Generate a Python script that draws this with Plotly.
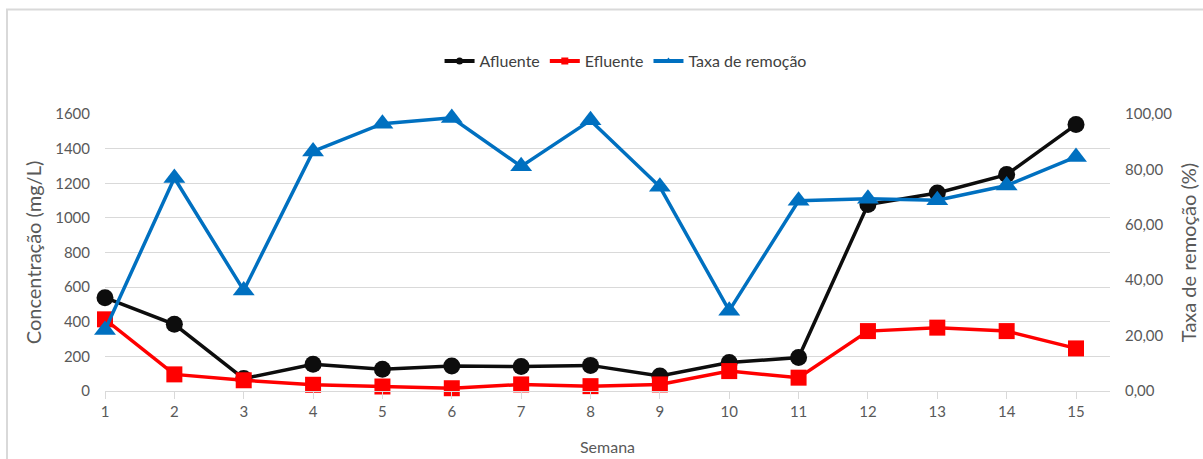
import plotly.graph_objects as go

# Weekly monitoring data
semana = list(range(1, 16))
afluente = [539, 385, 72, 154, 125, 144, 141, 148, 87, 164, 193, 1077, 1144, 1250, 1539]
efluente = [414, 96, 62, 36, 26, 16, 38, 28, 38, 115, 77, 346, 366, 346, 246]
taxa_remocao = [22.0, 76.9, 36.3, 86.5, 96.5, 98.6, 81.1, 97.7, 73.7, 29.0, 68.7, 69.4, 68.9, 74.2, 84.5]

left_ticks = [0, 200, 400, 600, 800, 1000, 1200, 1400, 1600]
right_ticks = [0, 20, 40, 60, 80, 100]
right_labels = ["0,00", "20,00", "40,00", "60,00", "80,00", "100,00"]

FONT = "Lato"
TXT = "#595959"
GRID = "#d9d9d9"
BLACK = "#0d0d0d"
RED = "#ff0000"
BLUE = "#0070c0"

fig = go.Figure()

fig.add_trace(go.Scatter(
    x=semana, y=afluente, mode="lines+markers", name="Afluente", showlegend=False,
    cliponaxis=False,
    line=dict(color=BLACK, width=3.5),
    marker=dict(symbol="circle", size=17, color=BLACK),
))
fig.add_trace(go.Scatter(
    x=semana, y=efluente, mode="lines+markers", name="Efluente", showlegend=False,
    cliponaxis=False,
    line=dict(color=RED, width=3.5),
    marker=dict(symbol="square", size=16, color=RED),
))
fig.add_trace(go.Scatter(
    x=semana, y=taxa_remocao, mode="lines+markers", name="Taxa de remoção", showlegend=False,
    yaxis="y2", cliponaxis=False,
    line=dict(color=BLUE, width=3.5),
    marker=dict(symbol="triangle-up", size=19, color=BLUE),
))

# Legend entries with small markers
for name, color, sym in [("Afluente", BLACK, "circle"),
                         ("Efluente", RED, "square"),
                         ("Taxa de remoção", BLUE, "triangle-up")]:
    fig.add_trace(go.Scatter(
        x=[None], y=[None], mode="lines+markers", name=name,
        line=dict(color=color, width=4),
        marker=dict(symbol=sym, size=7, color=color),
    ))

fig.update_layout(
    width=1203, height=459,
    margin=dict(l=105, r=93, t=114, b=68),
    paper_bgcolor="white", plot_bgcolor="white",
    font=dict(family=FONT, color=TXT, size=15),
    showlegend=True,
    legend=dict(
        orientation="h", xref="container", yref="container",
        x=0.52, y=0.867, xanchor="center", yanchor="middle",
        font=dict(family=FONT, size=16, color="#404040"),
        itemwidth=30, tracegroupgap=0,
    ),
    xaxis=dict(
        range=[1, 15.49], tickmode="array", tickvals=semana,
        ticktext=[str(s) for s in semana],
        showgrid=False, zeroline=False, automargin=False,
        showline=True, linecolor=GRID, linewidth=1.3,
        ticks="outside", ticklen=7, tickcolor=GRID, tickwidth=1.3,
        tickfont=dict(family=FONT, size=15, color=TXT),
        title=dict(text="Semana", font=dict(family=FONT, size=16, color=TXT), standoff=22),
    ),
    yaxis=dict(
        range=[0, 1600], tickvals=left_ticks,
        showgrid=True, gridcolor=GRID, gridwidth=1.3,
        zeroline=False, showline=False, ticks="", automargin=False,
        ticklabelstandoff=14,
        tickfont=dict(family=FONT, size=15, color=TXT),
        title=dict(text="Concentração (mg/L)", font=dict(family=FONT, size=20, color=TXT), standoff=8),
    ),
    yaxis2=dict(
        range=[0, 100], tickvals=right_ticks, ticktext=right_labels,
        overlaying="y", side="right", automargin=False,
        showgrid=False, zeroline=False, showline=False, ticks="",
        ticklabelstandoff=14,
        tickfont=dict(family=FONT, size=15, color=TXT),
        title=dict(text="Taxa de remoção (%)", font=dict(family=FONT, size=20, color=TXT), standoff=10),
    ),
)

# Light chart-area frame
fig.add_shape(type="rect", xref="paper", yref="paper",
              x0=(7 - 105) / 1005, x1=(1250 - 105) / 1005,
              y0=(391 - 470) / 277, y1=(391 - 9.5) / 277,
              line=dict(color=GRID, width=2), layer="below")

fig.write_html("out.html")
